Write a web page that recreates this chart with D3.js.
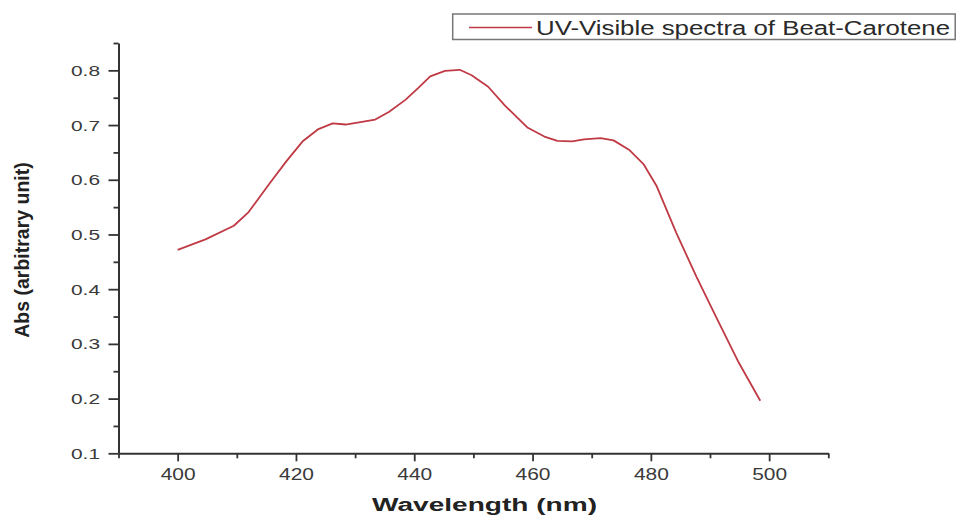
<!DOCTYPE html>
<html>
<head>
<meta charset="utf-8">
<script src="https://cdn.jsdelivr.net/npm/d3@7"></script>
<style>
    body { margin: 0; background: #fff; }
    svg { display: block; font-family: "Liberation Sans", Arial, sans-serif; }
    .axis path, .axis line { stroke: #333; }
</style>
</head>
<body>
<svg id="chart"></svg>
<script>
// values
var wavelength = [400, 404.7, 409.5, 412, 415.6, 418.4, 421.2, 423.7, 426.2, 428.4, 433.4, 435.7, 438.5, 440.6,
    442.7, 445.2, 447.7, 449.7, 452.5, 455.3, 459.2, 462, 464.2, 466.7, 468.7, 471.5, 473.7, 476.3, 478.8,
    481, 484.3, 487.7, 491, 494.9, 498.5];
var absorbance = [0.472, 0.491, 0.516, 0.541, 0.594, 0.634, 0.671, 0.692, 0.703, 0.701, 0.710, 0.724, 0.746, 0.767,
    0.789, 0.799, 0.801, 0.791, 0.770, 0.736, 0.695, 0.679, 0.671, 0.670, 0.674, 0.676, 0.672, 0.655, 0.628,
    0.588, 0.503, 0.423, 0.350, 0.265, 0.196];

var xMajorTicks = [400, 420, 440, 460, 480, 500];
var xMinorTicks = [390, 410, 430, 450, 470, 490, 510];
var yMajorTicks = [0.1, 0.2, 0.3, 0.4, 0.5, 0.6, 0.7, 0.8];
var yMinorTicks = [0.15, 0.25, 0.35, 0.45, 0.55, 0.65, 0.75, 0.85];

var seriesName = "UV-Visible spectra of Beat-Carotene";
var xTitle = "Wavelength (nm)";
var yTitle = "Abs (arbitrary unit)";

var width = 960, height = 516;
var margin = { "left": 118.5, "right": 131.7, "top": 43, "bottom": 62.7 };
var lineColor = "#bf3a44";

var svg = d3.select("#chart")
    .attr("width", width)
    .attr("height", height);

var x = d3.scaleLinear()
    .domain([390, 510])
    .range([margin.left, width - margin.right]);

var y = d3.scaleLinear()
    .domain([0.1, 0.85])
    .range([height - margin.bottom, margin.top]);

// minor ticks first, major on top
svg.append("g")
    .attr("class", "axis")
    .attr("transform", "translate(0," + (height - margin.bottom) + ")")
    .call(d3.axisBottom(x).tickValues(xMinorTicks).tickSize(5).tickSizeOuter(0).tickFormat(""))
    .call(g => g.selectAll("line").attr("stroke-width", 1.8))
    .call(g => g.select(".domain").attr("stroke-width", 2));

let gx = svg.append("g")
    .attr("class", "axis")
    .attr("transform", "translate(0," + (height - margin.bottom) + ")")
    .call(d3.axisBottom(x).tickValues(xMajorTicks).tickSize(8).tickSizeOuter(0).tickFormat(d3.format("d")));
gx.select(".domain").remove();
gx.selectAll("line").attr("stroke-width", 1.8);
gx.selectAll("text")
    .attr("y", 26.7)
    .attr("dy", 0)
    .attr("transform", "scale(1.27,1)")
    .style("font-size", "16.5px")
    .attr("fill", "#3a3a3a");

svg.append("g")
    .attr("class", "axis")
    .attr("transform", "translate(" + margin.left + ",0)")
    .call(d3.axisLeft(y).tickValues(yMinorTicks).tickSize(5).tickSizeOuter(0).tickFormat(""))
    .call(g => g.selectAll("line").attr("stroke-width", 1.8))
    .call(g => g.select(".domain").attr("stroke-width", 2));

let gy = svg.append("g")
    .attr("class", "axis")
    .attr("transform", "translate(" + margin.left + ",0)")
    .call(d3.axisLeft(y).tickValues(yMajorTicks).tickSize(10).tickSizeOuter(0).tickFormat(d3.format(".1f")));
gy.select(".domain").remove();
gy.selectAll("line").attr("stroke-width", 1.8);
gy.selectAll("text")
    .attr("x", -18.5 / 1.35)
    .attr("transform", "scale(1.35,1)")
    .style("font-size", "15.5px")
    .attr("fill", "#3a3a3a");

// axis titles
svg.append("text")
    .attr("x", 484.5)
    .attr("y", 511)
    .attr("text-anchor", "middle")
    .attr("textLength", 225)
    .attr("lengthAdjust", "spacingAndGlyphs")
    .style("font-size", "18px")
    .style("font-weight", "bold")
    .attr("fill", "#222")
    .text(xTitle);

svg.append("text")
    .attr("transform", "translate(29,250) rotate(-90)")
    .attr("text-anchor", "middle")
    .style("font-size", "19.5px")
    .style("font-weight", "bold")
    .attr("fill", "#222")
    .text(yTitle);

// spectrum line
let lineFn = d3.line()
    .x((d, i) => x(wavelength[i]))
    .y(d => y(d));

svg.append("path")
    .datum(absorbance)
    .attr("d", lineFn)
    .style("stroke", lineColor)
    .style("stroke-width", 1.8)
    .style("stroke-linejoin", "round")
    .style("fill", "none");

// legend
let legend = svg.append("g").attr("class", "legend");
legend.append("rect")
    .attr("x", 452.7)
    .attr("y", 14)
    .attr("width", 502.5)
    .attr("height", 25.5)
    .attr("fill", "#fff")
    .attr("stroke", "#777")
    .attr("stroke-width", 1.5);
legend.append("line")
    .attr("x1", 469).attr("x2", 532)
    .attr("y1", 27.5).attr("y2", 27.5)
    .style("stroke", lineColor)
    .style("stroke-width", 1.6);
legend.append("text")
    .attr("x", 536)
    .attr("y", 35)
    .attr("textLength", 414)
    .attr("lengthAdjust", "spacingAndGlyphs")
    .style("font-size", "19.5px")
    .attr("fill", "#2a2a2a")
    .text(seriesName);
</script>
</body>
</html>
